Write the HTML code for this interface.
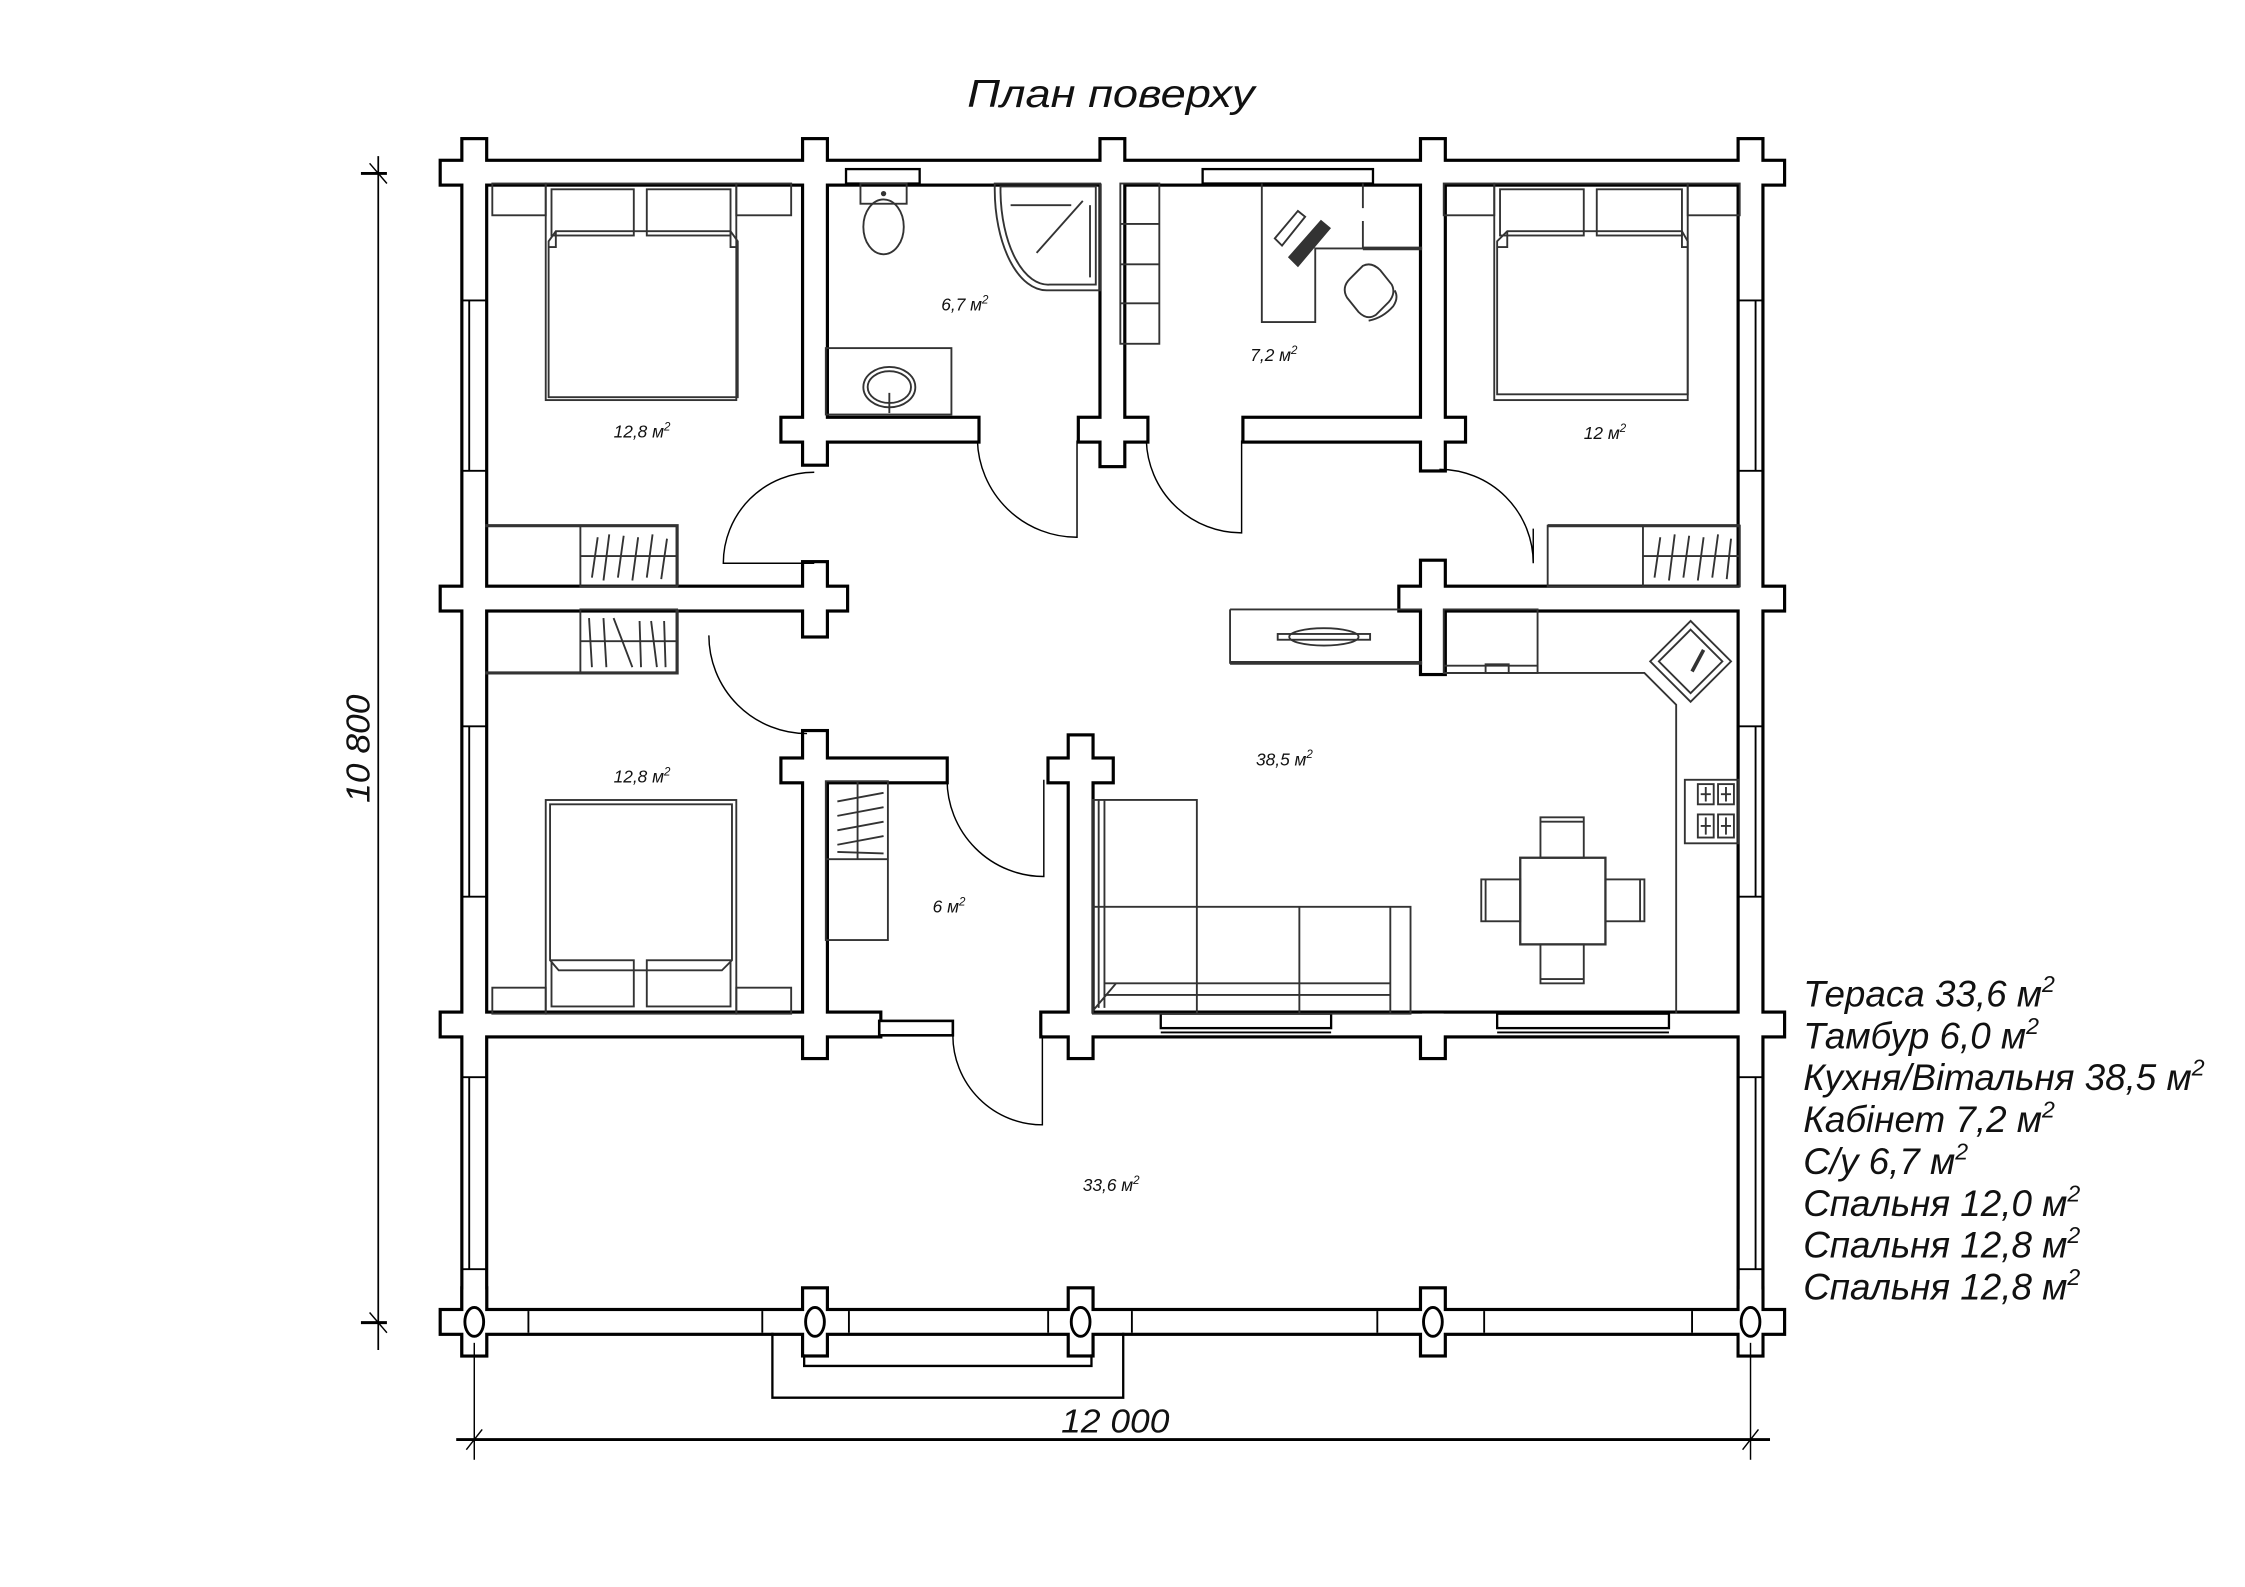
<!DOCTYPE html>
<html><head><meta charset="utf-8"><style>
html,body{margin:0;padding:0;background:#fff}
svg{display:block}
text{font-family:"Liberation Sans",sans-serif;font-style:italic;fill:#111}
</style></head><body>
<svg width="2245" height="1587" viewBox="0 0 1555 1099" xmlns="http://www.w3.org/2000/svg">
<defs>
<g id="walls">
<rect x="306" y="112" width="929" height="15"/>
<rect x="321" y="97" width="15" height="841"/>
<rect x="1205" y="97" width="15" height="841"/>
<rect x="557" y="97" width="15" height="224"/>
<rect x="557" y="390" width="15" height="50"/>
<rect x="557" y="507" width="15" height="225"/>
<rect x="763" y="97" width="15" height="225"/>
<rect x="985" y="97" width="15" height="228"/>
<rect x="985" y="389" width="15" height="77"/>
<rect x="542" y="290" width="135" height="15"/>
<rect x="748" y="290" width="46" height="15"/>
<rect x="862" y="290" width="152" height="15"/>
<rect x="306" y="407" width="280" height="15"/>
<rect x="970" y="407" width="265" height="15"/>
<rect x="542" y="526" width="113" height="15"/>
<rect x="727" y="526" width="43" height="15"/>
<rect x="741" y="510" width="15" height="222"/>
<rect x="306" y="702" width="303" height="15"/>
<rect x="722" y="702" width="513" height="15"/>
<rect x="985" y="702" width="15" height="30"/>
<rect x="306" y="908" width="929" height="15"/>
<rect x="321" y="893" width="15" height="45"/>
<rect x="557" y="893" width="15" height="45"/>
<rect x="741" y="893" width="15" height="45"/>
<rect x="985" y="893" width="15" height="45"/>
<rect x="1205" y="893" width="15" height="45"/>
</g>
</defs>
<rect width="1555" height="1099" fill="#fff"/>
<use href="#walls" fill="#000" stroke="#000" stroke-width="4.4"/>
<use href="#walls" fill="#fff"/>

<g fill="none" stroke="#000" stroke-width="1.3">
<g>
<line x1="319" y1="208" x2="338" y2="208"/><line x1="319" y1="326" x2="338" y2="326"/><line x1="325" y1="208" x2="325" y2="326"/>
<line x1="319" y1="503" x2="338" y2="503"/><line x1="319" y1="621" x2="338" y2="621"/><line x1="325" y1="503" x2="325" y2="621"/>
<line x1="319" y1="746" x2="338" y2="746"/><line x1="319" y1="879" x2="338" y2="879"/><line x1="325" y1="746" x2="325" y2="879"/>
<line x1="1203" y1="208" x2="1222" y2="208"/><line x1="1203" y1="326" x2="1222" y2="326"/><line x1="1216" y1="208" x2="1216" y2="326"/>
<line x1="1203" y1="503" x2="1222" y2="503"/><line x1="1203" y1="621" x2="1222" y2="621"/><line x1="1216" y1="503" x2="1216" y2="621"/>
<line x1="1203" y1="746" x2="1222" y2="746"/><line x1="1203" y1="879" x2="1222" y2="879"/><line x1="1216" y1="746" x2="1216" y2="879"/>
</g>
<rect x="586" y="117" width="51" height="10" fill="#fff" stroke-width="1.6"/>
<rect x="833" y="117" width="118" height="10" fill="#fff" stroke-width="1.6"/>
<rect x="804" y="702" width="118" height="10" fill="#fff" stroke-width="1.6"/>
<line x1="804" y1="715" x2="922" y2="715"/>
<rect x="1037" y="702" width="119" height="10" fill="#fff" stroke-width="1.6"/>
<line x1="1037" y1="715" x2="1156" y2="715"/>
<rect x="609" y="707" width="51" height="10" fill="#fff" stroke-width="1.8"/>
<line x1="366" y1="908" x2="366" y2="923"/><line x1="528" y1="908" x2="528" y2="923"/>
<line x1="588" y1="908" x2="588" y2="923"/><line x1="726" y1="908" x2="726" y2="923"/>
<line x1="784" y1="908" x2="784" y2="923"/><line x1="954" y1="908" x2="954" y2="923"/>
<line x1="1028" y1="908" x2="1028" y2="923"/><line x1="1172" y1="908" x2="1172" y2="923"/>
</g>
<g fill="#fff" stroke="#000" stroke-width="2">
<ellipse cx="328.5" cy="915.5" rx="6.5" ry="10"/>
<ellipse cx="564.5" cy="915.5" rx="6.5" ry="10"/>
<ellipse cx="748.5" cy="915.5" rx="6.5" ry="10"/>
<ellipse cx="992.5" cy="915.5" rx="6.5" ry="10"/>
<ellipse cx="1212.5" cy="915.5" rx="6.5" ry="10"/>
</g>
<g fill="none" stroke="#000" stroke-width="1.6">
<polyline points="535,923 535,968 778,968 778,923"/>
<polyline points="557,938 557,946 756,946 756,938"/>
</g>

<g fill="none" stroke="#000" stroke-width="1">
<path d="M564,327 A63,63 0 0 0 501,390 H564"/>
<path d="M491,440 A68,68 0 0 0 559,508"/>
<path d="M677,305 A69,69 0 0 0 746,372 V305"/>
<path d="M794,305 A66,66 0 0 0 860,369 V305"/>
<path d="M997,325 A65,65 0 0 1 1062,390 V366"/>
<path d="M656,540 A67,67 0 0 0 723,607 V540"/>
<path d="M660,717 A62,62 0 0 0 722,779 V717"/>
</g>

<g fill="none" stroke="#333" stroke-width="1.3">
<rect x="341" y="127" width="37" height="22"/><rect x="510" y="127" width="38" height="22"/>
<rect x="378" y="127" width="132" height="150"/>
<rect x="382" y="131" width="57" height="32"/><rect x="448" y="131" width="58" height="32"/>
<path d="M385,160 H506 L511,167 V275 H380 V167 Z"/>
<path d="M385,160 V171 H380 M506,160 V171 H511"/>
<path d="M336,364 H469 V406" stroke-width="2.2"/>
<rect x="402" y="364" width="67" height="42"/><line x1="402" y1="385" x2="469" y2="385"/>
<path d="M410,400 L414,372 M418,402 L422,370 M428,400 L432,371 M438,402 L442,372 M448,400 L452,370 M458,401 L462,373"/>
<path d="M336,466 H469 V422" stroke-width="2.2"/>
<rect x="402" y="422" width="67" height="44"/><line x1="402" y1="444" x2="469" y2="444"/>
<path d="M408,428 L410,462 M418,428 L420,462 M425,428 L438,462 M443,430 L444,462 M451,430 L455,462 M460,430 L461,462"/>
<rect x="378" y="554" width="132" height="148"/>
<path d="M381,557 H507 V665 L500,672 H387 L381,665 Z"/>
<rect x="382" y="665" width="57" height="32"/><rect x="448" y="665" width="58" height="32"/>
<rect x="341" y="684" width="37" height="18"/><rect x="510" y="684" width="38" height="18"/>
<rect x="596" y="127" width="32" height="14"/>
<ellipse cx="612" cy="157" rx="14" ry="19"/>
<circle cx="612" cy="134" r="1.2" fill="#333"/>
<path d="M689,127 H762 V201 H725 A36,70 0 0 1 689,131 Z"/>
<path d="M693,129 H759 V197 H727 A33,66 0 0 1 693,133 Z"/>
<line x1="700" y1="142" x2="742" y2="142"/><line x1="718" y1="175" x2="750" y2="139"/>
<line x1="755" y1="142" x2="755" y2="192"/>
<rect x="572" y="241" width="87" height="46"/>
<ellipse cx="616" cy="268" rx="18" ry="14"/><ellipse cx="616" cy="268" rx="15" ry="11"/>
<line x1="616" y1="272" x2="616" y2="286"/>
<rect x="776" y="127" width="27" height="111"/>
<line x1="776" y1="155" x2="803" y2="155"/><line x1="776" y1="183" x2="803" y2="183"/><line x1="776" y1="210" x2="803" y2="210"/>
<path d="M874,127 V223 H911 V172 H985"/>
<path d="M944,127 V144 M944,153 V172"/>
<line x1="944" y1="172" x2="985" y2="172" stroke-width="2.5"/>
<path d="M883,165 L899,146 L904,150 L888,170 Z"/>
<path d="M893,178 L915,153 L921,158 L899,184 Z" fill="#333"/>
<path d="M935,193 L944,184 Q950,181 956,187 L964,197 Q967,203 962,209 L953,218 Q947,222 941,216 L933,206 Q929,199 935,193 Z"/>
<path d="M948,222 Q958,220 965,212 Q969,206 966,201"/>
<rect x="1000" y="127" width="35" height="22"/><rect x="1169" y="127" width="36" height="22"/>
<rect x="1035" y="127" width="134" height="150"/>
<rect x="1039" y="131" width="58" height="32"/><rect x="1106" y="131" width="59" height="32"/>
<path d="M1044,160 H1165 L1169,167 V273 H1037 V167 Z"/>
<path d="M1044,160 V171 H1037 M1165,160 V171 H1169"/>
<path d="M1072,364 H1205" stroke-width="2.2"/>
<rect x="1072" y="364" width="133" height="42"/>
<rect x="1138" y="364" width="67" height="42"/><line x1="1138" y1="385" x2="1205" y2="385"/>
<path d="M1146,400 L1150,372 M1156,402 L1160,370 M1166,400 L1170,371 M1176,402 L1180,372 M1186,400 L1190,370 M1196,401 L1199,373"/>
<path d="M852,422 H985 M852,422 V459 H985"/>
<line x1="852" y1="459" x2="985" y2="459" stroke-width="2.6"/>
<ellipse cx="917" cy="441" rx="24" ry="6"/>
<rect x="885" y="439" width="64" height="4"/>
<rect x="572" y="541" width="43" height="110"/>
<line x1="572" y1="595" x2="615" y2="595"/><line x1="594" y1="541" x2="594" y2="595"/>
<path d="M580,555 L612,549 M580,565 L612,559 M580,575 L612,569 M580,585 L612,579 M580,590 L612,591"/>
<path d="M1000,466 H1139 L1161,488 V702"/>
<rect x="1000" y="422" width="65" height="44"/>
<line x1="1000" y1="461" x2="1065" y2="461"/>
<rect x="1029" y="460" width="16" height="6"/>
<path d="M1171,430 L1199,458 L1171,486 L1143,458 Z"/>
<path d="M1171,436 L1193,458 L1171,480 L1149,458 Z"/>
<line x1="1172" y1="465" x2="1180" y2="450" stroke-width="2.5"/>
<rect x="1167" y="540" width="37" height="44"/>
<rect x="1176" y="543" width="11" height="14"/><rect x="1190" y="543" width="11" height="14"/>
<rect x="1176" y="564" width="11" height="16"/><rect x="1190" y="564" width="11" height="16"/>
<path d="M1178,550 H1185 M1181.5,545 V555 M1192,550 H1199 M1195.5,545 V555 M1178,572 H1185 M1181.5,566 V578 M1192,572 H1199 M1195.5,566 V578"/>
<rect x="1053" y="594" width="59" height="60" stroke-width="1.6"/>
<rect x="1067" y="566" width="30" height="28"/><line x1="1067" y1="569" x2="1097" y2="569"/>
<rect x="1067" y="654" width="30" height="27"/><line x1="1067" y1="678" x2="1097" y2="678"/>
<rect x="1026" y="609" width="27" height="29"/><line x1="1029" y1="609" x2="1029" y2="638"/>
<rect x="1112" y="609" width="27" height="29"/><line x1="1136" y1="609" x2="1136" y2="638"/>
<path d="M757,554 H829 V628 H977 V702 H757 Z"/>
<path d="M761,554 V698 M765,554 V698 M757,628 H829 M829,628 V702 M900,628 V702 M963,628 V702 M765,681 H963 M765,689 H963 M757,700 L773,681"/>
</g>

<g stroke="#000" fill="none">
<line x1="262" y1="108" x2="262" y2="935" stroke-width="1.2"/>
<line x1="250" y1="120" x2="268" y2="120" stroke-width="2"/>
<line x1="250" y1="916" x2="268" y2="916" stroke-width="2"/>
<line x1="256" y1="113" x2="268" y2="127" stroke-width="1"/>
<line x1="256" y1="909" x2="268" y2="923" stroke-width="1"/>
<line x1="316" y1="997" x2="1226" y2="997" stroke-width="2"/>
<line x1="328.5" y1="930" x2="328.5" y2="1011" stroke-width="1"/>
<line x1="1212.5" y1="930" x2="1212.5" y2="1011" stroke-width="1"/>
<line x1="323" y1="1004" x2="334" y2="990" stroke-width="1"/>
<line x1="1207" y1="1004" x2="1218" y2="990" stroke-width="1"/>
</g>
<text x="735" y="992" font-size="23" textLength="75" lengthAdjust="spacingAndGlyphs">12 000</text>
<text transform="translate(256,556) rotate(-90)" font-size="23" textLength="75" lengthAdjust="spacingAndGlyphs">10 800</text>

<text x="670" y="74" font-size="27" textLength="199" lengthAdjust="spacingAndGlyphs">План поверху</text>

<g font-size="12">
<text x="425" y="303">12,8 м<tspan font-size="8" dy="-5">2</tspan></text>
<text x="652" y="215">6,7 м<tspan font-size="8" dy="-5">2</tspan></text>
<text x="866" y="250">7,2 м<tspan font-size="8" dy="-5">2</tspan></text>
<text x="1097" y="304">12 м<tspan font-size="8" dy="-5">2</tspan></text>
<text x="870" y="530">38,5 м<tspan font-size="8" dy="-5">2</tspan></text>
<text x="425" y="542">12,8 м<tspan font-size="8" dy="-5">2</tspan></text>
<text x="646" y="632">6 м<tspan font-size="8" dy="-5">2</tspan></text>
<text x="750" y="825">33,6 м<tspan font-size="8" dy="-5">2</tspan></text>
</g>

<g font-size="25.5">
<text x="1249" y="697">Тераса 33,6 м<tspan font-size="16" dy="-10">2</tspan></text>
<text x="1249" y="726">Тамбур 6,0 м<tspan font-size="16" dy="-10">2</tspan></text>
<text x="1249" y="755">Кухня/Вітальня 38,5 м<tspan font-size="16" dy="-10">2</tspan></text>
<text x="1249" y="784">Кабінет 7,2 м<tspan font-size="16" dy="-10">2</tspan></text>
<text x="1249" y="813">С/у 6,7 м<tspan font-size="16" dy="-10">2</tspan></text>
<text x="1249" y="842">Спальня 12,0 м<tspan font-size="16" dy="-10">2</tspan></text>
<text x="1249" y="871">Спальня 12,8 м<tspan font-size="16" dy="-10">2</tspan></text>
<text x="1249" y="900">Спальня 12,8 м<tspan font-size="16" dy="-10">2</tspan></text>
</g>
</svg>
</body></html>
